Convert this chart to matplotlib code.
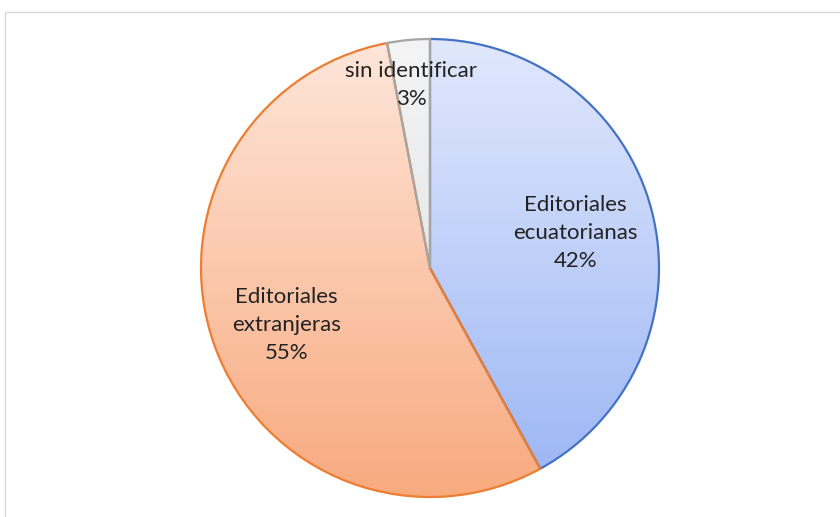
import matplotlib
matplotlib.use("Agg")
import matplotlib.pyplot as plt
import numpy as np
from matplotlib.colors import LinearSegmentedColormap
from matplotlib.patches import Rectangle

labels = ["Editoriales\necuatorianas", "Editoriales\nextranjeras", "sin identificar"]
values = [42, 55, 3]
edge_colors = ["#4472c4", "#ed7d31", "#a5a5a5"]
top_colors = ["#e1e8fd", "#fee6da", "#f4f4f4"]
bottom_colors = ["#9ab5f4", "#f8aa7f", "#dcdcdc"]
label_pos = [(0.636, 0.155), (-0.627, -0.25), (-0.083, 0.80)]

plt.rcParams["font.family"] = ["Lato", "DejaVu Sans"]

fig = plt.figure(figsize=(8.4, 5.17), dpi=100)
ax = fig.add_axes([0, 0, 1, 1])
ax.set_xlim(0, 840)
ax.set_ylim(517, 0)
ax.set_aspect("equal")
ax.axis("off")

# chart frame
ax.add_patch(Rectangle((5, 12), 860, 520, fill=False, ec="#d9d9d9", lw=1.0))

cx, cy, r = 430, 268, 229
pie_ax = fig.add_axes([(cx - r) / 840, 1 - (cy + r) / 517, 2 * r / 840, 2 * r / 517])
wedges, _ = pie_ax.pie(values, startangle=90, counterclock=False, radius=1,
                       wedgeprops=dict(linewidth=1.6))
pie_ax.set_xlim(-1.0, 1.0)
pie_ax.set_ylim(-1.0, 1.0)
pie_ax.set_aspect("equal")
pie_ax.axis("off")

grad = np.linspace(0, 1, 256).reshape(-1, 1)
for w, ec, c0, c1 in zip(wedges, edge_colors, top_colors, bottom_colors):
    cmap = LinearSegmentedColormap.from_list("g", [c0, c1])
    w.set_facecolor("none")
    w.set_edgecolor(ec)
    w.set_zorder(3)
    w.set_clip_on(False)
    im = pie_ax.imshow(grad, cmap=cmap, extent=(-1, 1, -1, 1), origin="upper",
                       aspect="auto", zorder=1)
    im.set_clip_path(w)

for lab, v, (x, y) in zip(labels, values, label_pos):
    pie_ax.text(x, y, f"{lab}\n{v}%", ha="center", va="center", fontsize=16,
                color="#222222", linespacing=1.5, zorder=5)

fig.savefig("out.png", dpi=100)
